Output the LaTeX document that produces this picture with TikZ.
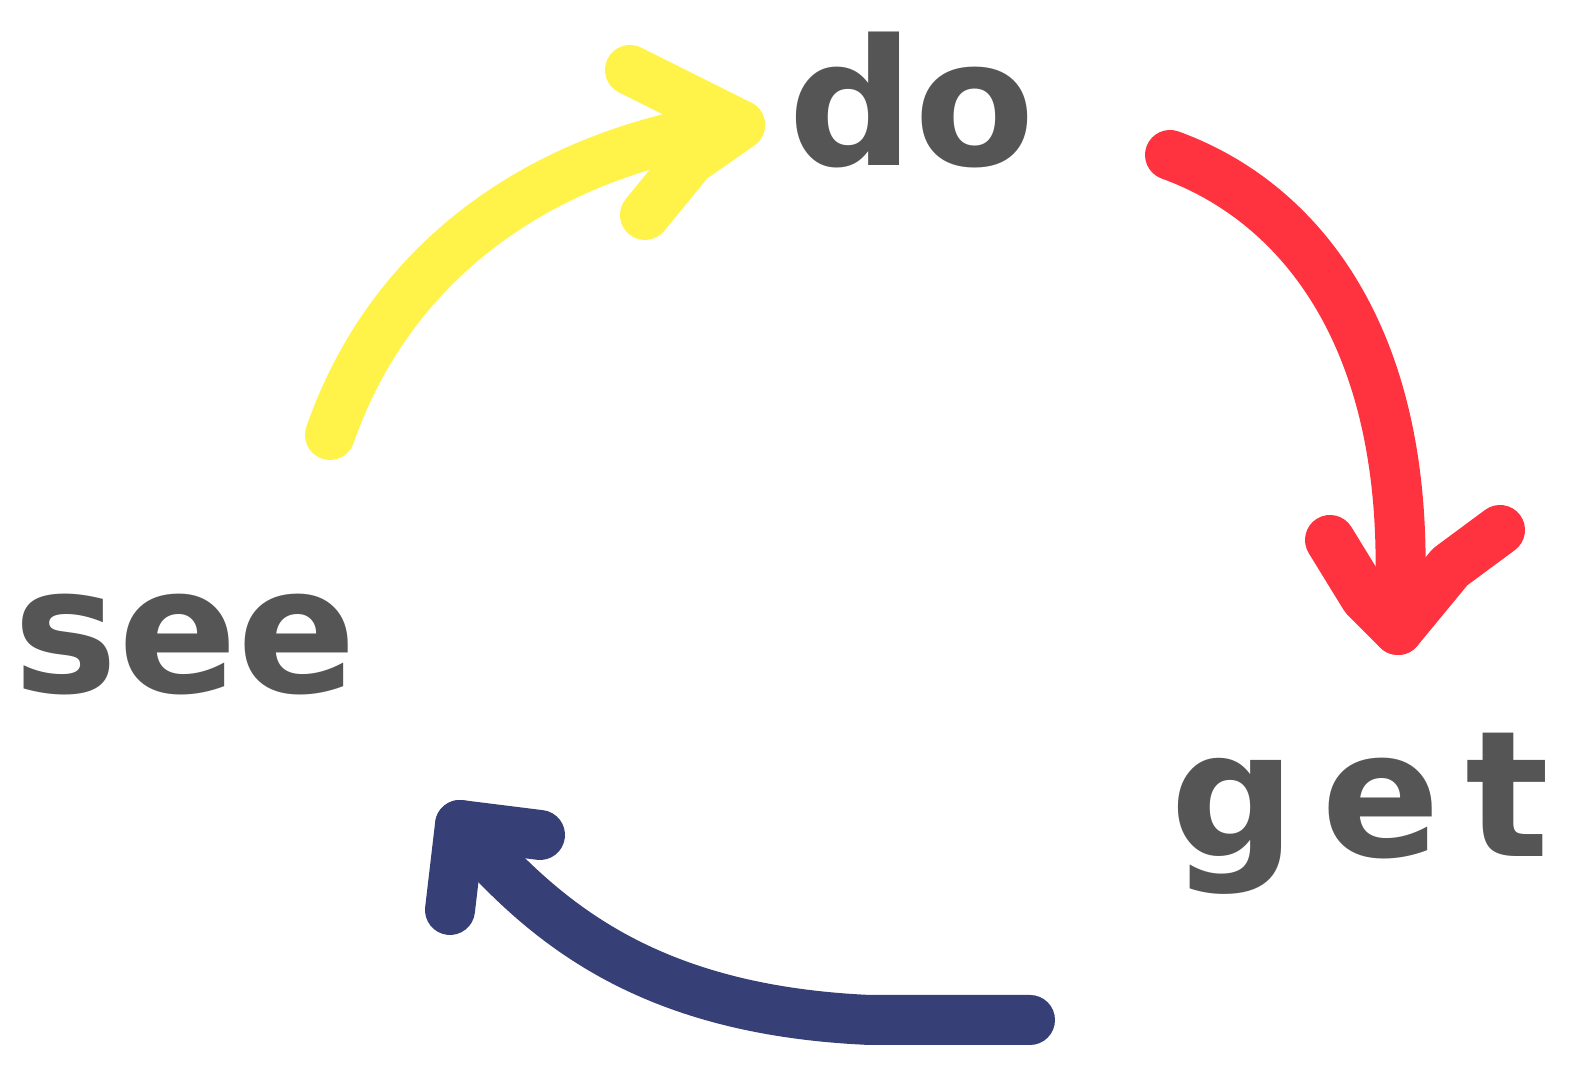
\documentclass[tikz,border=0pt]{standalone}
\usepackage{fontspec}
\setmainfont{DejaVu Sans}
\usepackage{tikz}
\usetikzlibrary{positioning,calc}
\definecolor{ink}{HTML}{555555}
\definecolor{ylw}{HTML}{FFF34A}
\definecolor{rd}{HTML}{FF333F}
\definecolor{blu}{HTML}{364077}

\begin{document}
\begin{tikzpicture}[
  word/.style={text=ink,font=\fontsize{50}{56}\selectfont\bfseries,inner sep=0pt},
  stroke/.style={line width=5mm,line cap=round,line join=round}]

\useasboundingbox (0,0) rectangle (15.73,10.72);

\node[word] (see) at (1.85,4.27) {see};
\node[word] (do) at (9.12,9.72) {do};
\node[word] (get) at (13.60,2.58) {\addfontfeature{LetterSpace=14}get};

\coordinate (y0) at (3.30,6.37);
\coordinate (y1) at (7.40,9.47);
\coordinate (r0) at (11.70,9.17);
\coordinate (r1) at (13.98,4.42);
\coordinate (b0) at (10.30,0.52);
\coordinate (b1) at (4.60,2.47);

% see -> do
\draw[stroke,ylw] (y0) .. controls (3.9,8.1) and (5.4,9.2) .. (y1);
\draw[stroke,ylw] (6.30,10.02) -- (6.90,9.72) -- (y1) -- (6.90,9.12) -- (6.45,8.57);
% do -> get
\draw[stroke,rd] (r0) .. controls (13.0,8.7) and (14.2,7.3) .. (r1);
\draw[stroke,rd] (13.30,5.32) -- (13.65,4.75) -- (r1) -- (14.50,5.05) -- (15.00,5.42);
% get -> see
\draw[stroke,blu] (b0) -- (8.70,0.52) .. controls (6.4,0.62) and (5.4,1.55) .. (b1);
\draw[stroke,blu] (5.40,2.37) -- (b1) -- (4.50,1.62);
\end{tikzpicture}
\end{document}
